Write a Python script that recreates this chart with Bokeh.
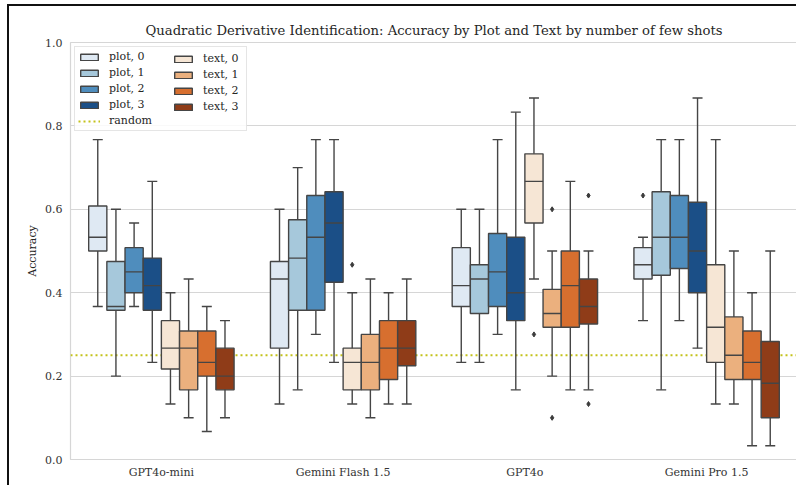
from bokeh.plotting import figure
from bokeh.models import ColumnDataSource, FixedTicker, Legend, LegendItem, Range1d, CustomJSTickFormatter
from bokeh.embed import file_html
from bokeh.resources import INLINE

models = ["GPT4o-mini", "Gemini Flash 1.5", "GPT4o", "Gemini Pro 1.5"]
series = ["plot, 0", "plot, 1", "plot, 2", "plot, 3", "text, 0", "text, 1", "text, 2", "text, 3"]
colors = ["#dfe9f3", "#a6c8db", "#4f8dbd", "#1b4f87", "#f6e6d5", "#ebb07e", "#d76f2f", "#8f3c18"]

# box statistics per model (rows) and series (columns)
whisker_low = [
    [0.367, 0.200, 0.367, 0.233, 0.133, 0.100, 0.067, 0.100],
    [0.133, 0.167, 0.300, 0.233, 0.133, 0.100, 0.133, 0.133],
    [0.233, 0.233, 0.300, 0.167, 0.433, 0.200, 0.167, 0.167],
    [0.333, 0.167, 0.333, 0.267, 0.133, 0.133, 0.033, 0.033],
]
q1 = [
    [0.500, 0.358, 0.400, 0.358, 0.217, 0.167, 0.200, 0.167],
    [0.267, 0.358, 0.358, 0.425, 0.167, 0.167, 0.192, 0.225],
    [0.367, 0.350, 0.367, 0.333, 0.567, 0.317, 0.317, 0.325],
    [0.433, 0.442, 0.458, 0.400, 0.233, 0.192, 0.192, 0.100],
]
median = [
    [0.533, 0.367, 0.450, 0.417, 0.267, 0.267, 0.233, 0.200],
    [0.433, 0.483, 0.533, 0.567, 0.233, 0.233, 0.267, 0.267],
    [0.417, 0.433, 0.450, 0.400, 0.667, 0.350, 0.417, 0.367],
    [0.467, 0.533, 0.533, 0.500, 0.317, 0.250, 0.233, 0.183],
]
q3 = [
    [0.608, 0.475, 0.508, 0.483, 0.333, 0.308, 0.308, 0.267],
    [0.475, 0.575, 0.633, 0.642, 0.267, 0.300, 0.333, 0.333],
    [0.508, 0.467, 0.542, 0.533, 0.733, 0.408, 0.500, 0.433],
    [0.508, 0.642, 0.633, 0.617, 0.467, 0.342, 0.308, 0.283],
]
whisker_high = [
    [0.767, 0.600, 0.567, 0.667, 0.400, 0.433, 0.367, 0.333],
    [0.600, 0.700, 0.767, 0.767, 0.400, 0.433, 0.400, 0.433],
    [0.600, 0.600, 0.767, 0.833, 0.867, 0.500, 0.667, 0.500],
    [0.533, 0.767, 0.767, 0.867, 0.767, 0.500, 0.400, 0.500],
]
outlier_model = ["Gemini Flash 1.5", "GPT4o", "GPT4o", "GPT4o", "GPT4o", "GPT4o", "Gemini Pro 1.5"]
outlier_series = ["text, 0", "text, 0", "text, 1", "text, 1", "text, 3", "text, 3", "plot, 0"]
outlier_value = [0.467, 0.300, 0.600, 0.100, 0.633, 0.133, 0.633]
random_level = 0.25
y_ticks = [0.0, 0.2, 0.4, 0.6, 0.8, 1.0]

FONT = "DejaVu Serif"
EDGE = "#454545"
BOXW = 0.1
n = len(series)


def pos(mi, si):
    return mi + (si - (n - 1) / 2) * BOXW


p = figure(width=789, height=481, output_backend="svg", toolbar_location=None,
           x_range=Range1d(-0.5, len(models) - 0.5), y_range=Range1d(0, 1.0),
           min_border_left=61, min_border_right=1, min_border_top=36, min_border_bottom=28,
           title="Quadratic Derivative Identification: Accuracy by Plot and Text by number of few shots",
           styles={"margin-left": "7px", "margin-top": "4px",
                   "border-left": "2px solid #111111", "border-top": "2px solid #111111"})
p.title.align = "center"
p.title.text_font = FONT
p.title.text_font_size = "13.2px"
p.title.text_font_style = "normal"
p.title.text_color = "#262626"
p.title.standoff = 9

p.outline_line_color = "#d6d6d6"
p.outline_line_width = 1.2
p.xgrid.grid_line_color = None
p.ygrid.grid_line_color = "#d6d6d6"
p.ygrid.grid_line_width = 1
p.yaxis.ticker = FixedTicker(ticks=y_ticks)
p.xaxis.ticker = FixedTicker(ticks=list(range(len(models))))
p.xaxis.major_label_overrides = {i: m for i, m in enumerate(models)}
p.yaxis.formatter = CustomJSTickFormatter(code="return tick.toFixed(1);")
for ax in (p.xaxis[0], p.yaxis[0]):
    ax.axis_line_color = None
    ax.major_tick_line_color = None
    ax.minor_tick_line_color = None
    ax.major_tick_out = 0
    ax.major_tick_in = 0
    ax.minor_tick_out = 0
    ax.minor_tick_in = 0
    ax.major_label_text_font = FONT
    ax.major_label_text_font_size = "11px"
    ax.major_label_text_color = "#333333"
    ax.axis_label_text_font = FONT
    ax.axis_label_text_font_size = "11px"
    ax.axis_label_text_font_style = "normal"
    ax.axis_label_text_color = "#262626"
p.yaxis.axis_label = "Accuracy"
p.yaxis.major_label_standoff = 8
p.yaxis.axis_label_standoff = 3
p.xaxis.major_label_standoff = 6

# random baseline
rline = p.line(x=[-0.5, len(models) - 0.5], y=[random_level, random_level],
               line_color="#c4c21a", line_width=2, line_dash="2 3")

box_renderers = []
for si, s in enumerate(series):
    xs = [pos(mi, si) for mi in range(len(models))]
    src = ColumnDataSource(dict(
        x=xs,
        x0=[x - BOXW / 2 for x in xs],
        x1=[x + BOXW / 2 for x in xs],
        lo=[whisker_low[mi][si] for mi in range(len(models))],
        q1=[q1[mi][si] for mi in range(len(models))],
        med=[median[mi][si] for mi in range(len(models))],
        q3=[q3[mi][si] for mi in range(len(models))],
        hi=[whisker_high[mi][si] for mi in range(len(models))],
    ))
    p.segment(x0="x", y0="lo", x1="x", y1="hi", source=src, line_color=EDGE, line_width=1.4)
    p.scatter(x="x", y="lo", source=src, marker="dash", size=10, line_color=EDGE, line_width=1.4)
    p.scatter(x="x", y="hi", source=src, marker="dash", size=10, line_color=EDGE, line_width=1.4)
    r = p.vbar(x="x", width=BOXW, bottom="q1", top="q3", source=src,
               fill_color=colors[si], line_color=EDGE, line_width=1.4)
    p.segment(x0="x0", y0="med", x1="x1", y1="med", source=src, line_color=EDGE, line_width=1.4)
    box_renderers.append(r)

ox = [pos(models.index(m), series.index(s)) for m, s in zip(outlier_model, outlier_series)]
p.scatter(x=ox, y=outlier_value, marker="diamond", size=5, fill_color="#3a3a3a", line_color="#3a3a3a")

legend_style = dict(label_text_font=FONT, label_text_font_size="11px", label_text_color="#262626",
                    glyph_width=22, glyph_height=8, label_height=12,
                    label_standoff=9, spacing=3, padding=3)

# first column (with the frame)
items_a = [LegendItem(label=s, renderers=[box_renderers[i]]) for i, s in enumerate(series[:4])]
items_a.append(LegendItem(label="random", renderers=[rline]))
legend_a = Legend(items=items_a, location="top_left", margin=4, label_width=134,
                  border_line_color="#cccccc", border_line_width=1,
                  background_fill_alpha=0.85, **legend_style)
p.add_layout(legend_a, "center")

# second column
items_b = [LegendItem(label=s, renderers=[box_renderers[i + 4]]) for i, s in enumerate(series[4:])]
legend_b = Legend(items=items_b, location=(102, 346), margin=0,
                  border_line_color=None, background_fill_alpha=0, **legend_style)
p.add_layout(legend_b, "center")

open("out.html", "w").write(file_html(p, INLINE))
